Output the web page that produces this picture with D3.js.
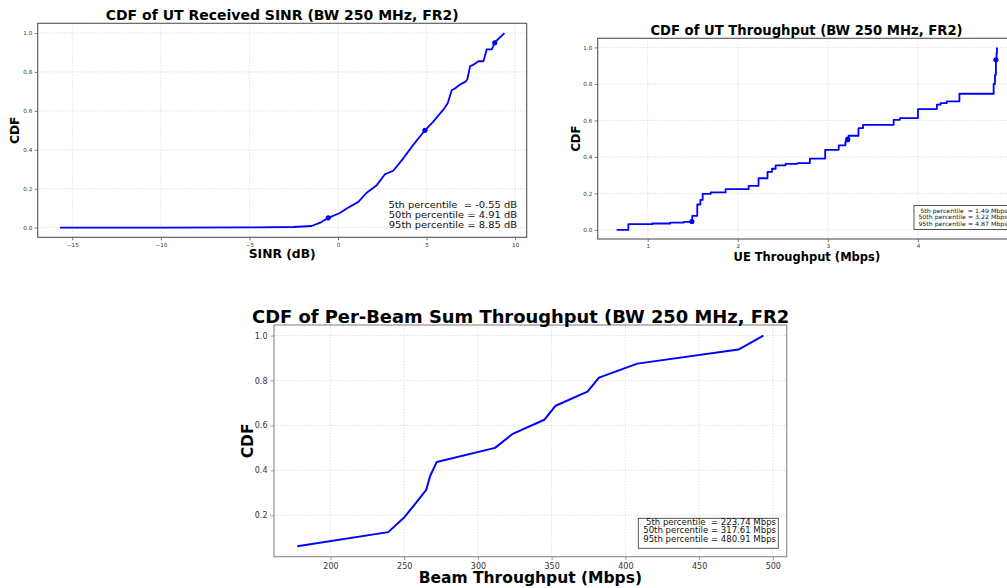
<!DOCTYPE html>
<html><head><meta charset="utf-8">
<script src="https://cdn.jsdelivr.net/npm/d3@7"></script>
<style>
body{margin:0;background:#fff;}
svg{display:block;font-family:"DejaVu Sans",sans-serif;background:#fff;}
</style>
</head><body><svg id="c" width="1007" height="588"></svg>
<script>
// ---------- Data ----------
const cdfTicks = [0, 0.2, 0.4, 0.6, 0.8, 1.0];
const beamYTicks = [0.2, 0.4, 0.6, 0.8, 1.0];

// Chart 1: SINR CDF
const sinrX = [-15.7, -10, -5, -2.5, -1.49, -1.0, -0.55, 0.11, 0.49, 1.15, 1.62, 2.19, 2.66, 3.12, 3.69, 4.25, 4.91, 5.38, 5.95, 6.2, 6.42, 6.6, 6.89, 7.2, 7.3, 7.46, 7.6, 7.93, 8.21, 8.4, 8.68, 8.87, 9.4];
const sinrY = [0, 0, 0.001, 0.003, 0.008, 0.025, 0.05, 0.075, 0.098, 0.132, 0.179, 0.218, 0.275, 0.292, 0.356, 0.425, 0.5, 0.545, 0.606, 0.64, 0.706, 0.715, 0.735, 0.75, 0.761, 0.83, 0.835, 0.855, 0.855, 0.916, 0.916, 0.954, 1.0];
const sinrMarkX = [-0.55, 4.91, 8.85];
const sinrMarkY = [0.05, 0.5, 0.95];
const sinrTicks = [-15, -10, -5, 0, 5, 10];
const sinrNotes = ["5th percentile  = -0.55 dB", "50th percentile = 4.91 dB", "95th percentile = 8.85 dB"];

// Chart 2: UT throughput CDF (step)
const thrX = [0.656, 0.785, 1.05, 1.25, 1.40, 1.495, 1.55, 1.585, 1.61, 1.70, 1.865, 2.12, 2.23, 2.33, 2.38, 2.42, 2.53, 2.66, 2.80, 2.97, 3.12, 3.195, 3.23, 3.34, 3.39, 3.73, 3.80, 4.00, 4.21, 4.25, 4.32, 4.46, 4.84, 4.855, 4.865, 4.872, 4.877];
const thrY = [0, 0.031, 0.035, 0.04, 0.044, 0.077, 0.139, 0.164, 0.197, 0.205, 0.223, 0.241, 0.283, 0.318, 0.335, 0.353, 0.362, 0.366, 0.391, 0.439, 0.463, 0.485, 0.516, 0.558, 0.576, 0.603, 0.613, 0.662, 0.686, 0.695, 0.704, 0.746, 0.80, 0.85, 0.93, 0.97, 1.0];
const thrMarkX = [1.49, 3.22, 4.865];
const thrMarkY = [0.046, 0.497, 0.932];
const thrTicks = [1, 2, 3, 4, 5];
const thrNotes = ["5th percentile  = 1.49 Mbps", "50th percentile = 3.22 Mbps", "95th percentile = 4.87 Mbps"];

// Chart 3: per-beam sum throughput CDF
const beamX = [177.5, 239.15, 249.6, 257.3, 264.9, 267.6, 272.1, 311.6, 323.6, 345.0, 352.7, 374.3, 382.1, 408.1, 476.68, 493.6];
const beamY = [0.0625, 0.125, 0.1875, 0.25, 0.3125, 0.375, 0.4375, 0.5, 0.5625, 0.625, 0.6875, 0.75, 0.8125, 0.875, 0.9375, 1.0];
const beamTicks = [200, 250, 300, 350, 400, 450, 500];
const beamNotes = ["5th percentile  = 223.74 Mbps", "50th percentile = 317.61 Mbps", "95th percentile = 480.91 Mbps"];

// ---------- Drawing ----------
const svg = d3.select("#c");
function pad(ext){ const r = ext[1]-ext[0]; return [ext[0]-0.05*r, ext[1]+0.05*r]; }

function chart(o){
  const g = svg.append("g");
  const x = d3.scaleLinear().domain(pad(d3.extent(o.xs))).range([o.L, o.R]);
  const y = d3.scaleLinear().domain(o.yDom || pad(d3.extent(o.ys))).range([o.B, o.T]);

  // grid
  const grid = g.append("g").attr("stroke", "#d6d6d6").attr("stroke-width", 0.7).attr("stroke-dasharray", "1.5,1.5");
  o.xt.forEach(v => { const px = x(v); if (px >= o.L && px <= o.R) grid.append("line").attr("x1", px).attr("x2", px).attr("y1", o.T).attr("y2", o.B); });
  o.yt.forEach(v => grid.append("line").attr("x1", o.L).attr("x2", Math.min(o.R, 1007)).attr("y1", y(v)).attr("y2", y(v)));

  // line
  const pts = o.xs.map((v, i) => [v, o.ys[i]]);
  g.append("path").datum(pts)
    .attr("fill", "none").attr("stroke", "#0000ff").attr("stroke-width", o.lw)
    .attr("stroke-linejoin", "round")
    .attr("d", d3.line().x(d => x(d[0])).y(d => y(d[1])).curve(o.step ? d3.curveStepAfter : d3.curveLinear));

  if (o.mx) {
    g.selectAll("circle.m").data(o.mx.map((v, i) => [v, o.my[i]])).enter().append("circle")
      .attr("cx", d => x(d[0])).attr("cy", d => y(d[1])).attr("r", o.mr).attr("fill", "#0000ff");
  }

  // frame
  g.append("rect").attr("x", o.L).attr("y", o.T).attr("width", o.R - o.L).attr("height", o.B - o.T)
    .attr("fill", "none").attr("stroke", o.frame).attr("stroke-width", 1.1);

  // axes
  const ax = g.append("g").attr("transform", `translate(0,${o.B})`)
    .call(d3.axisBottom(x).tickValues(o.xt).tickFormat(o.xf).tickSize(o.tk).tickPadding(o.tp));
  const ay = g.append("g").attr("transform", `translate(${o.L},0)`)
    .call(d3.axisLeft(y).tickValues(o.yt).tickFormat(d3.format(".1f")).tickSize(o.tk).tickPadding(o.tp));
  [ax, ay].forEach(a => {
    a.select(".domain").remove();
    a.selectAll(".tick line").attr("stroke", o.frame).attr("stroke-width", 0.8);
    a.selectAll(".tick text").attr("fill", "#333").style("font-size", o.tfs + "px").style("font-family", "DejaVu Sans");
  });

  // title
  g.append("text").attr("x", o.titleX).attr("y", o.titleY).attr("text-anchor", o.titleAnchor || "middle")
    .style("font-weight", "bold").style("font-size", o.titleFs + "px").attr("fill", "#000").text(o.title);
  // x label
  g.append("text").attr("x", (o.L + o.R) / 2).attr("y", o.xlY).attr("text-anchor", "middle")
    .style("font-weight", "bold").style("font-size", o.lfs + "px").text(o.xl);
  // y label
  g.append("text").attr("transform", `translate(${o.ylX},${(o.T + o.B) / 2}) rotate(-90)`).attr("text-anchor", "middle")
    .style("font-weight", "bold").style("font-size", o.lfs + "px").text("CDF");

  // notes
  const ng = g.append("g");
  if (o.box) {
    ng.append("rect").attr("x", o.box[0]).attr("y", o.box[1]).attr("width", o.box[2]).attr("height", o.box[3])
      .attr("fill", "#fff").attr("stroke", "#444").attr("stroke-width", 0.9);
  }
  o.notes.forEach((t, i) => {
    ng.append("text").attr("transform", `translate(${o.nx},${o.ny + i * o.nls}) scale(${o.nsx},1)`).attr("text-anchor", "end")
      .style("white-space", "pre").style("font-size", o.nfs + "px").attr("fill", "#111").text(t);
  });
}

chart({
  xs: sinrX, ys: sinrY, mx: sinrMarkX, my: sinrMarkY, mr: 2.6, lw: 1.8,
  yDom: [-0.05, 1.05], L: 37.7, R: 526.7, T: 23.3, B: 237.3,
  xt: sinrTicks, yt: cdfTicks, xf: d3.format("d"), tk: 3, tp: 2.5, tfs: 5.6, frame: "#555",
  title: "CDF of UT Received SINR (BW 250 MHz, FR2)", titleX: 282.2, titleY: 20, titleFs: 14,
  xl: "SINR (dB)", xlY: 258, ylX: 18.5, lfs: 12.3,
  notes: sinrNotes, nx: 517, ny: 207.5, nls: 10, nfs: 9, nsx: 1.1
});

chart({
  xs: thrX, ys: thrY, mx: thrMarkX, my: thrMarkY, mr: 2.6, lw: 1.8, step: true,
  yDom: [-0.05, 1.05], L: 597.7, R: 1016, T: 38.3, B: 239,
  xt: thrTicks, yt: cdfTicks, xf: d3.format("d"), tk: 3, tp: 2.5, tfs: 5.6, frame: "#555",
  title: "CDF of UT Throughput (BW 250 MHz, FR2)", titleX: 806.5, titleY: 35, titleFs: 13.2,
  xl: "UE Throughput (Mbps)", xlY: 260.5, ylX: 580, lfs: 11.5,
  notes: thrNotes, nx: 1007.5, ny: 212.5, nls: 6.8, nfs: 5.9, nsx: 1.06, box: [914, 205.5, 100, 24]
});

chart({
  xs: beamX, ys: beamY, lw: 2,
  L: 274, R: 786.7, T: 325, B: 556.7,
  xt: beamTicks, yt: beamYTicks, xf: d3.format("d"), tk: 3.5, tp: 3, tfs: 8, frame: "#888",
  title: "CDF of Per-Beam Sum Throughput (BW 250 MHz, FR2", titleX: 252, titleY: 322.7, titleFs: 17.9, titleAnchor: "start",
  xl: "Beam Throughput (Mbps)", xlY: 583, ylX: 252.5, lfs: 15.5,
  notes: beamNotes, nx: 776, ny: 525, nls: 8.3, nfs: 7.9, nsx: 1.08, box: [638.3, 518.3, 140, 30]
});
</script>
</body></html>
